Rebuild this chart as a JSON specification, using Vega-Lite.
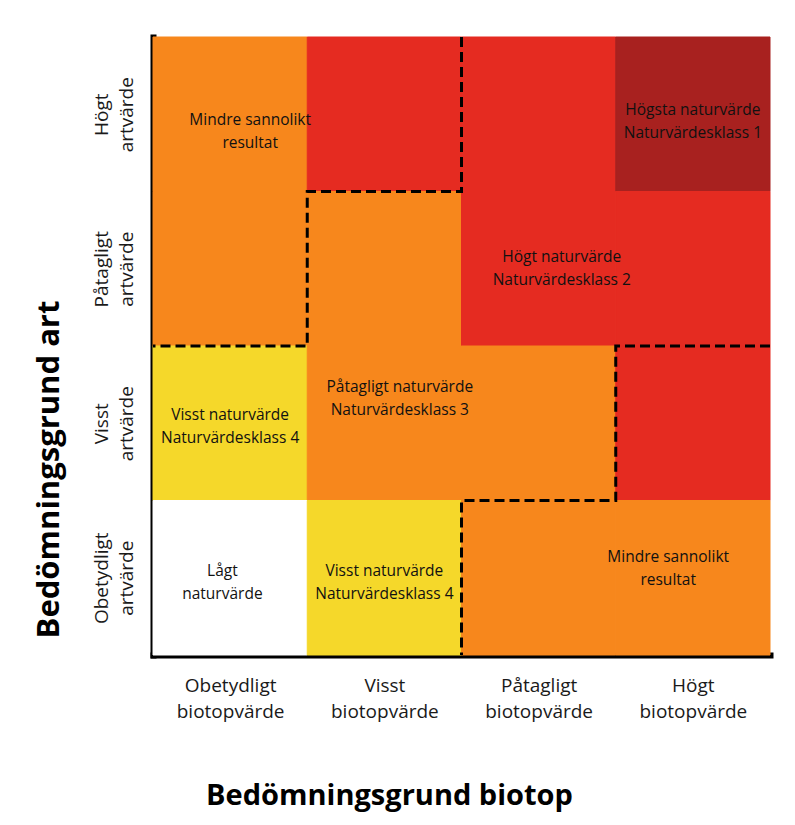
{
  "$schema": "https://vega.github.io/schema/vega-lite/v6.json",
  "autosize": "none",
  "width": 617,
  "height": 618,
  "padding": {"left": 153, "top": 37, "right": 25, "bottom": 170},
  "background": "white",
  "config": {"view": {"stroke": null}, "font": "Open Sans"},
  "datasets": {
    "cells": [
      {"c0": 0, "c1": 1, "r0": 3, "r1": 4, "klass": "Mindre sannolikt"},
      {"c0": 1, "c1": 2, "r0": 3, "r1": 4, "klass": "Klass 2"},
      {"c0": 2, "c1": 3, "r0": 3, "r1": 4, "klass": "Klass 2"},
      {"c0": 3, "c1": 4, "r0": 3, "r1": 4, "klass": "Klass 1"},
      {"c0": 0, "c1": 1, "r0": 2, "r1": 3, "klass": "Mindre sannolikt"},
      {"c0": 1, "c1": 2, "r0": 2, "r1": 3, "klass": "Klass 3"},
      {"c0": 2, "c1": 3, "r0": 2, "r1": 3, "klass": "Klass 2"},
      {"c0": 3, "c1": 4, "r0": 2, "r1": 3, "klass": "Klass 2"},
      {"c0": 0, "c1": 1, "r0": 1, "r1": 2, "klass": "Klass 4"},
      {"c0": 1, "c1": 2, "r0": 1, "r1": 2, "klass": "Klass 3"},
      {"c0": 2, "c1": 3, "r0": 1, "r1": 2, "klass": "Klass 3"},
      {"c0": 3, "c1": 4, "r0": 1, "r1": 2, "klass": "Klass 2"},
      {"c0": 0, "c1": 1, "r0": 0, "r1": 1, "klass": "Lågt"},
      {"c0": 1, "c1": 2, "r0": 0, "r1": 1, "klass": "Klass 4"},
      {"c0": 2, "c1": 3, "r0": 0, "r1": 1, "klass": "Mindre sannolikt"},
      {"c0": 3, "c1": 4, "r0": 0, "r1": 1, "klass": "Mindre sannolikt"}
    ],
    "gränser": [
      {"linje": "A", "i": 0, "x": 2, "y": 4},
      {"linje": "A", "i": 1, "x": 2, "y": 3},
      {"linje": "A", "i": 2, "x": 1, "y": 3},
      {"linje": "A", "i": 3, "x": 1, "y": 2},
      {"linje": "A", "i": 4, "x": 0, "y": 2},
      {"linje": "B", "i": 0, "x": 4, "y": 2},
      {"linje": "B", "i": 1, "x": 3, "y": 2},
      {"linje": "B", "i": 2, "x": 3, "y": 1},
      {"linje": "B", "i": 3, "x": 2, "y": 1},
      {"linje": "B", "i": 4, "x": 2, "y": 0}
    ],
    "texter": [
      {"x": 0.63, "y": 3.39, "rad1": "Mindre sannolikt", "rad2": "resultat"},
      {"x": 3.5, "y": 3.45, "rad1": "Högsta naturvärde", "rad2": "Naturvärdesklass 1"},
      {"x": 2.65, "y": 2.5, "rad1": "Högt  naturvärde", "rad2": "Naturvärdesklass 2"},
      {"x": 1.6, "y": 1.66, "rad1": "Påtagligt naturvärde", "rad2": "Naturvärdesklass 3"},
      {"x": 0.5, "y": 1.48, "rad1": "Visst naturvärde", "rad2": "Naturvärdesklass 4"},
      {"x": 0.45, "y": 0.47, "rad1": "Lågt", "rad2": "naturvärde"},
      {"x": 1.5, "y": 0.47, "rad1": "Visst naturvärde", "rad2": "Naturvärdesklass 4"},
      {"x": 3.34, "y": 0.56, "rad1": "Mindre sannolikt", "rad2": "resultat"}
    ]
  },
  "layer": [
    {
      "data": {"name": "cells"},
      "mark": {"type": "rect", "strokeWidth": 1},
      "encoding": {
        "x": {
          "field": "c0", "type": "quantitative",
          "scale": {"domain": [0, 4], "nice": false, "zero": false},
          "axis": {
            "values": [0.5, 1.5, 2.5, 3.5],
            "labelExpr": "datum.value < 1 ? ['Obetydligt', 'biotopvärde'] : datum.value < 2 ? ['Visst', 'biotopvärde'] : datum.value < 3 ? ['Påtagligt', 'biotopvärde'] : ['Högt', 'biotopvärde']",
            "grid": false, "ticks": false, "tickSize": 0,
            "domain": true, "domainColor": "#000000", "domainWidth": 6, "domainCap": "square",
            "labelFont": "Open Sans", "labelFontSize": 19, "labelColor": "#1a1a1a",
            "labelLineHeight": 26, "labelPadding": 21, "labelAlign": "center", "labelBaseline": "top",
            "labelFlush": false, "labelOverlap": false, "labelBound": false,
            "title": "Bedömningsgrund biotop",
            "titleFont": "Open Sans", "titleFontSize": 29, "titleFontWeight": "bold", "titleColor": "#000000",
            "titleX": 236, "titleY": 149, "titleAlign": "center", "titleBaseline": "alphabetic", "titleAnchor": "start"
          }
        },
        "x2": {"field": "c1"},
        "y": {
          "field": "r0", "type": "quantitative",
          "scale": {"domain": [0, 4], "nice": false, "zero": false},
          "axis": {
            "values": [0.5, 1.5, 2.5, 3.5],
            "labelExpr": "datum.value < 1 ? ['Obetydligt', 'artvärde'] : datum.value < 2 ? ['Visst', 'artvärde'] : datum.value < 3 ? ['Påtagligt', 'artvärde'] : ['Högt', 'artvärde']",
            "grid": false, "ticks": false, "tickSize": 0,
            "domain": true, "domainColor": "#000000", "domainWidth": 6, "domainCap": "square",
            "labelFont": "Open Sans", "labelFontSize": 19, "labelColor": "#1a1a1a",
            "labelLineHeight": 25, "labelPadding": 42, "labelAngle": 270, "labelAlign": "center", "labelBaseline": "bottom",
            "labelFlush": false, "labelOverlap": false, "labelBound": false,
            "title": "Bedömningsgrund art",
            "titleFont": "Open Sans", "titleFontSize": 31, "titleFontWeight": "bold", "titleColor": "#000000",
            "titleAngle": 270, "titleX": -95, "titleY": 432, "titleAlign": "center", "titleBaseline": "alphabetic", "titleAnchor": "start"
          }
        },
        "y2": {"field": "r1"},
        "color": {
          "field": "klass", "type": "nominal", "legend": null,
          "scale": {
            "domain": ["Mindre sannolikt", "Klass 1", "Klass 2", "Klass 3", "Klass 4", "Lågt"],
            "range": ["#F7871C", "#A8211F", "#E52B21", "#F7871C", "#F5D82A", "#FFFFFF"]
          }
        },
        "stroke": {
          "field": "klass", "type": "nominal", "legend": null,
          "scale": {
            "domain": ["Mindre sannolikt", "Klass 1", "Klass 2", "Klass 3", "Klass 4", "Lågt"],
            "range": ["#F7871C", "#A8211F", "#E52B21", "#F7871C", "#F5D82A", "#FFFFFF"]
          }
        }
      }
    },
    {
      "data": {"name": "gränser"},
      "mark": {"type": "line", "color": "#000000", "strokeWidth": 3, "strokeDash": [10, 5], "strokeCap": "butt", "strokeJoin": "miter"},
      "encoding": {
        "x": {"field": "x", "type": "quantitative"},
        "y": {"field": "y", "type": "quantitative"},
        "detail": {"field": "linje"},
        "order": {"field": "i", "type": "quantitative"}
      }
    },
    {
      "data": {"name": "texter"},
      "mark": {"type": "text", "font": "Open Sans", "fontSize": 15.5, "color": "#111111", "align": "center", "baseline": "middle", "dy": -11.5},
      "encoding": {
        "x": {"field": "x", "type": "quantitative"},
        "y": {"field": "y", "type": "quantitative"},
        "text": {"field": "rad1"}
      }
    },
    {
      "data": {"name": "texter"},
      "mark": {"type": "text", "font": "Open Sans", "fontSize": 15.5, "color": "#111111", "align": "center", "baseline": "middle", "dy": 11.5},
      "encoding": {
        "x": {"field": "x", "type": "quantitative"},
        "y": {"field": "y", "type": "quantitative"},
        "text": {"field": "rad2"}
      }
    }
  ]
}
